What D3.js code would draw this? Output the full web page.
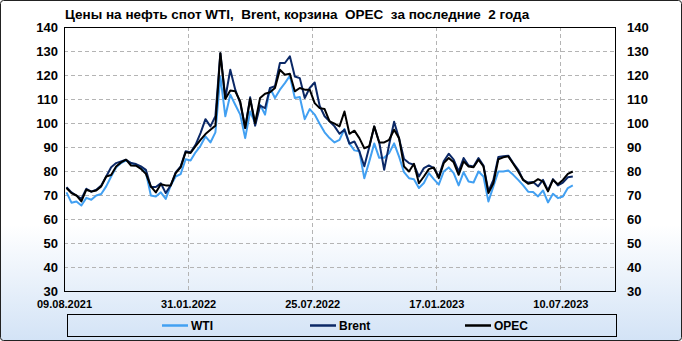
<!DOCTYPE html>
<html>
<head>
<meta charset="utf-8">
<script src="https://cdn.jsdelivr.net/npm/d3@7"></script>
<style>
  html, body { margin: 0; padding: 0; background: #fff; }
  svg { display: block; }
</style>
</head>
<body>
<div id="chart"></div>
<script>
// weekly prices, $/bbl
const wti = [71.1, 66.8, 67.3, 65.6, 68.8, 68.0, 69.8, 70.4, 73.6, 77.7,
  81.5, 83.3, 84.4, 83.3, 82.6, 81.2, 79.4, 69.8, 69.4, 71.1,
  68.4, 74.0, 77.7, 78.7, 84.9, 84.4, 87.8, 90.5, 94.4, 91.9,
  96.1, 119.4, 102.8, 111.8, 107.6, 103.5, 93.7, 104.8, 100.0, 107.6,
  103.5, 114.6, 110.4, 113.9, 116.6, 119.7, 110.4, 110.8, 101.6, 105.8,
  103.5, 99.7, 96.1, 93.7, 91.9, 93.0, 97.5, 91.4, 88.6, 88.2,
  77.0, 84.0, 91.5, 85.5, 85.5, 87.5, 91.5, 86.0, 79.5, 77.0,
  76.6, 72.9, 75.0, 79.1, 76.6, 74.3, 79.8, 81.5, 79.1, 74.0,
  79.5, 75.6, 75.2, 79.8, 77.7, 67.3, 73.6, 79.8, 79.8, 80.2,
  78.4, 76.3, 74.0, 71.4, 71.2, 69.4, 71.9, 66.9, 70.5, 68.7,
  69.4, 72.9, 74.0]

const brent = [73.3, 71.1, 69.8, 68.4, 72.6, 71.4, 72.2, 74.0, 77.7, 81.6,
  83.3, 84.0, 84.7, 83.3, 82.9, 81.9, 80.5, 73.3, 73.3, 74.9,
  70.8, 74.0, 79.4, 81.9, 88.2, 87.8, 90.9, 95.8, 101.6, 98.6,
  102.8, 129.1, 110.4, 122.2, 113.9, 108.3, 97.9, 110.7, 98.9, 107.2,
  106.2, 114.6, 115.3, 125.0, 125.0, 127.8, 119.4, 118.7, 110.4, 114.6,
  116.9, 107.2, 102.8, 100.7, 98.6, 95.5, 97.2, 91.4, 92.3, 88.2,
  82.0, 90.0, 98.5, 92.0, 80.5, 91.0, 100.5, 93.5, 85.0, 83.3,
  82.6, 77.7, 81.2, 82.3, 81.2, 77.7, 84.0, 87.2, 84.7, 79.8,
  85.4, 82.3, 81.9, 85.4, 82.3, 71.5, 76.3, 85.8, 86.1, 86.4,
  83.3, 80.5, 76.3, 75.2, 75.4, 73.6, 76.3, 71.9, 76.6, 74.0,
  75.2, 77.4, 77.7]

const opec = [72.9, 70.8, 69.8, 67.3, 72.2, 71.4, 71.9, 73.6, 77.7, 78.3,
  81.9, 83.6, 84.7, 82.3, 82.2, 80.9, 78.8, 73.6, 71.1, 74.5,
  74.0, 74.0, 79.1, 81.5, 87.8, 87.5, 90.3, 93.0, 95.4, 97.2,
  98.9, 129.1, 110.0, 113.5, 113.2, 109.0, 97.9, 110.0, 100.0, 110.4,
  112.2, 112.8, 114.6, 122.2, 120.1, 120.5, 113.2, 114.6, 113.9, 113.9,
  108.3, 106.2, 105.8, 100.7, 99.7, 98.6, 104.8, 95.5, 96.8, 93.7,
  89.5, 90.3, 98.6, 91.9, 91.9, 93.0, 97.2, 93.7, 81.9, 79.8,
  83.0, 74.9, 77.7, 80.8, 81.5, 77.0, 83.3, 85.4, 83.6, 78.4,
  84.0, 81.9, 81.6, 84.7, 81.9, 70.8, 74.9, 84.9, 85.7, 86.1,
  83.0, 79.8, 76.3, 74.7, 75.2, 76.6, 75.6, 71.5, 76.3, 74.5,
  76.3, 78.8, 79.8]

// x ticks sit every 25 weeks
const tickWeeks = [0, 25, 50, 75, 100]
const tickLabels = ['09.08.2021', '31.01.2022', '25.07.2022', '17.01.2023', '10.07.2023']
const yTicks = [30, 40, 50, 60, 70, 80, 90, 100, 110, 120, 130, 140]

const seriesNames = ['WTI', 'Brent', 'OPEC']
const seriesColors = ['#42a0f2', '#0b2866', '#000000']
const seriesData = [wti, brent, opec]

const width = 682
const height = 341
const plot = { left: 64, right: 615, top: 27, bottom: 291 }
const fontFamily = "'Liberation Sans', Arial, sans-serif"

const svg = d3.select('#chart')
  .append('svg')
  .attr('width', width)
  .attr('height', height)

// background gradient, white to light blue at the bottom
const defs = svg.append('defs')
const grad = defs.append('linearGradient')
  .attr('id', 'bg')
  .attr('x1', 0).attr('y1', 0).attr('x2', 0).attr('y2', 1)
grad.append('stop').attr('offset', '0%').attr('stop-color', '#ffffff')
grad.append('stop').attr('offset', '66%').attr('stop-color', '#ffffff')
grad.append('stop').attr('offset', '100%').attr('stop-color', '#d3e3f6')

svg.append('rect')
  .attr('x', 0.5).attr('y', 0.5)
  .attr('width', width - 1).attr('height', height - 1)
  .attr('rx', 3)
  .attr('fill', 'url(#bg)')
  .attr('stroke', '#222')

const xScale = d3.scaleLinear()
  .domain([0, 111])
  .range([plot.left, plot.right])

const yScale = d3.scaleLinear()
  .domain([30, 140])
  .range([plot.bottom, plot.top])

// grid lines
const grid = svg.append('g')
  .attr('stroke', '#b4b4b4')
  .attr('stroke-dasharray', '4,3')
  .attr('stroke-width', 1)

grid.selectAll('.hgrid')
  .data(yTicks.filter(d => d > 30 && d < 140))
  .join('line')
  .attr('x1', plot.left).attr('x2', plot.right)
  .attr('y1', d => Math.round(yScale(d)) + 0.5)
  .attr('y2', d => Math.round(yScale(d)) + 0.5)

grid.selectAll('.vgrid')
  .data(tickWeeks.filter(d => d > 0))
  .join('line')
  .attr('y1', plot.top).attr('y2', plot.bottom)
  .attr('x1', d => Math.round(xScale(d)) + 0.5)
  .attr('x2', d => Math.round(xScale(d)) + 0.5)

// lines, one point per week, centred in its slot
const lineGenerator = d3.line()
  .x((d, i) => xScale(i + 0.5))
  .y(d => yScale(d))

seriesData.forEach((values, k) => {
  svg.append('path')
    .datum(values)
    .attr('d', lineGenerator)
    .attr('fill', 'none')
    .attr('stroke', seriesColors[k])
    .attr('stroke-width', 2)
    .attr('stroke-linejoin', 'round')
})

// plot frame
svg.append('rect')
  .attr('x', plot.left + 0.5).attr('y', plot.top + 0.5)
  .attr('width', plot.right - plot.left).attr('height', plot.bottom - plot.top)
  .attr('fill', 'none')
  .attr('stroke', '#000')

// y axes, left and right
const yAxisLeft = d3.axisLeft(yScale).tickValues(yTicks).tickSize(0).tickPadding(6)
const yAxisRight = d3.axisRight(yScale).tickValues(yTicks).tickSize(0).tickPadding(12)

const styleAxis = (g, size) => {
  g.select('.domain').remove()
  g.selectAll('text')
    .attr('font-family', fontFamily)
    .attr('font-size', size)
    .attr('font-weight', 'bold')
    .attr('fill', '#000')
}

svg.append('g')
  .attr('transform', `translate(${plot.left}, 0)`)
  .call(yAxisLeft)
  .call(g => styleAxis(g, 13))

svg.append('g')
  .attr('transform', `translate(${plot.right}, 0)`)
  .call(yAxisRight)
  .call(g => styleAxis(g, 13))

// x axis
const xAxis = d3.axisBottom(xScale)
  .tickValues(tickWeeks)
  .tickFormat((d, i) => tickLabels[i])
  .tickSize(0)
  .tickPadding(9)

svg.append('g')
  .attr('transform', `translate(0, ${plot.bottom})`)
  .call(xAxis)
  .call(g => styleAxis(g, 11))

// title
svg.append('text')
  .attr('x', 65)
  .attr('y', 19)
  .attr('font-family', fontFamily)
  .attr('font-size', 13.5)
  .attr('font-weight', 'bold')
  .style('white-space', 'pre')
  .text('Цены на нефть спот WTI,  Brent, корзина  OPEC  за последние  2 года')

// legend
const legend = svg.append('g')
legend.append('rect')
  .attr('x', 67.5).attr('y', 314.5)
  .attr('width', 549).attr('height', 22)
  .attr('fill', 'none')
  .attr('stroke', '#000')

const legendX = [162, 310, 465]
seriesNames.forEach((name, k) => {
  legend.append('line')
    .attr('x1', legendX[k]).attr('x2', legendX[k] + 26)
    .attr('y1', 325.5).attr('y2', 325.5)
    .attr('stroke', seriesColors[k])
    .attr('stroke-width', 2.5)
  legend.append('text')
    .attr('x', legendX[k] + 29)
    .attr('y', 330)
    .attr('font-family', fontFamily)
    .attr('font-size', 12)
    .attr('font-weight', 'bold')
    .text(name)
})
</script>
</body>
</html>
